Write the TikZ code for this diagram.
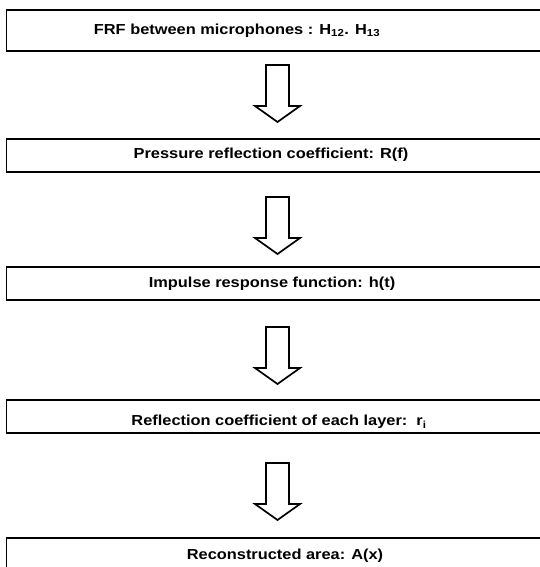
\documentclass[tikz,border=0pt]{standalone}
\usepackage{fontspec}
\setmainfont[FakeStretch=1.13]{Liberation Sans}
\tikzset{
  stagebox/.style={draw=black, line width=1.8pt, fill=white},
  stagetext/.style={font=\fontsize{14.5}{17}\selectfont\bfseries, inner sep=0pt},
  blockarrow/.style={draw=black, line width=1.7pt, line join=miter, fill=white}
}
\newcommand{\downarrowblock}[2]{% name, top y
  \coordinate (#1) at (277.5,#2);
  \draw[blockarrow] ([xshift=-11.5pt]#1) -- ([xshift=11.5pt]#1)
    -- ([xshift=11.5pt,yshift=-41pt]#1) -- ([xshift=22.5pt,yshift=-41pt]#1)
    -- ([yshift=-57pt]#1) -- ([xshift=-22.5pt,yshift=-41pt]#1)
    -- ([xshift=-11.5pt,yshift=-41pt]#1) -- cycle;}
\begin{document}
\begin{tikzpicture}[x=1pt,y=-1pt]
\clip (0,0) rectangle (540,567);
\fill[white] (0,0) rectangle (540,567);
% boxes
\draw[stagebox] (6.5,10) rectangle (560,51);
\draw[stagebox] (6.5,139) rectangle (560,172);
\draw[stagebox] (6.5,267) rectangle (560,300);
\draw[stagebox] (6.5,400) rectangle (560,433);
\draw[stagebox] (6.5,538) rectangle (560,590);
% texts
\node[stagetext] (t1) at (237,31) {FRF between microphones : H\textsubscript{12}. H\textsubscript{13}};
\node[stagetext] (t2) at (271,155) {Pressure reflection coefficient: R(f)};
\node[stagetext] (t3) at (272,284) {Impulse response function: h(t)};
\node[stagetext] (t4) at (279,422) {Reflection coefficient of each layer:\ \ r\textsubscript{i}};
\node[stagetext] (t5) at (285,556) {Reconstructed area: A(x)};
% arrows
\downarrowblock{a1}{65}
\downarrowblock{a2}{197}
\downarrowblock{a3}{327}
\downarrowblock{a4}{463}
\end{tikzpicture}
\end{document}
